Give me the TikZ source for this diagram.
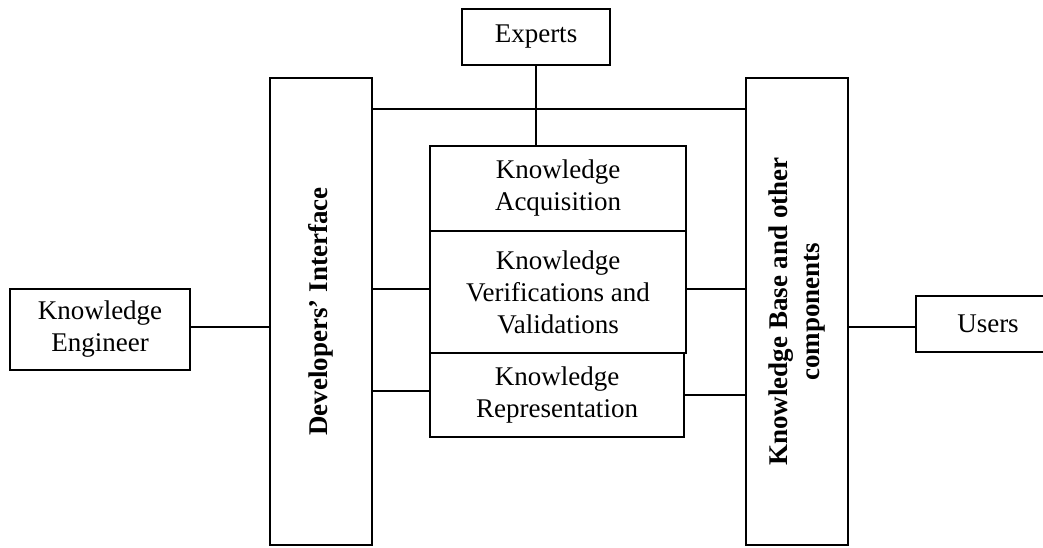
\documentclass[tikz,border=0pt]{standalone}
\usepackage{fontspec}
\setmainfont{Liberation Serif}
\tikzset{
  box/.style={draw, line width=1.3pt, align=center, inner sep=0pt,
    font=\fontsize{27}{32}\selectfont},
  sidetext/.style={rotate=90, align=center, font=\fontsize{27}{32}\selectfont\bfseries},
  link/.style={line width=1.3pt}
}
\begin{document}
\begin{tikzpicture}[x=1pt,y=-1pt]
  \useasboundingbox (0,0) rectangle (1043,548);
  % outer boxes
  \node[box, minimum width=148pt, minimum height=56pt] (experts) at (536,37) {Experts};
  \node[box, minimum width=102pt, minimum height=467pt] (dev) at (321,311.5) {};
  \node[sidetext] (devtext) at (dev) {Developers’ Interface};
  \node[box, minimum width=102pt, minimum height=467pt] (kb) at (797,311.5) {};
  \node[sidetext] (kbtext) at (kb) {Knowledge Base and other\\components};
  \node[box, minimum width=180pt, minimum height=81pt] (ke) at (100,329.5) {Knowledge\\Engineer};
  \node[box, minimum width=144pt, minimum height=56pt] (users) at (988,324) {Users};
  % middle stack
  \node[box, minimum width=256pt, minimum height=85pt] (acq) at (558,188.5) {Knowledge\\Acquisition};
  \node[box, minimum width=256pt, minimum height=122pt] (verif) at (558,292) {Knowledge\\Verifications and\\Validations};
  \node[box, minimum width=254pt, minimum height=84pt] (rep) at (557,395) {Knowledge\\Representation};
  % connectors
  \coordinate (bus) at (536,109);
  \draw[link] (experts.south) -- (experts.south |- acq.north);
  \draw[link] (bus -| dev.east) -- (bus -| kb.west);
  \draw[link] ([yshift=2.5pt]ke.east) -- ([yshift=2.5pt]ke.east -| dev.west);
  \draw[link] ([yshift=3pt]verif.west) -- ([yshift=3pt]verif.west -| dev.east);
  \draw[link] ([yshift=3pt]verif.east) -- ([yshift=3pt]verif.east -| kb.west);
  \draw[link] ([yshift=4pt]rep.west) -- ([yshift=4pt]rep.west -| dev.east);
  \draw[link] (rep.east) -- (rep.east -| kb.west);
  \draw[link] ([yshift=-3pt]users.west) -- ([yshift=-3pt]users.west -| kb.east);
\end{tikzpicture}
\end{document}
